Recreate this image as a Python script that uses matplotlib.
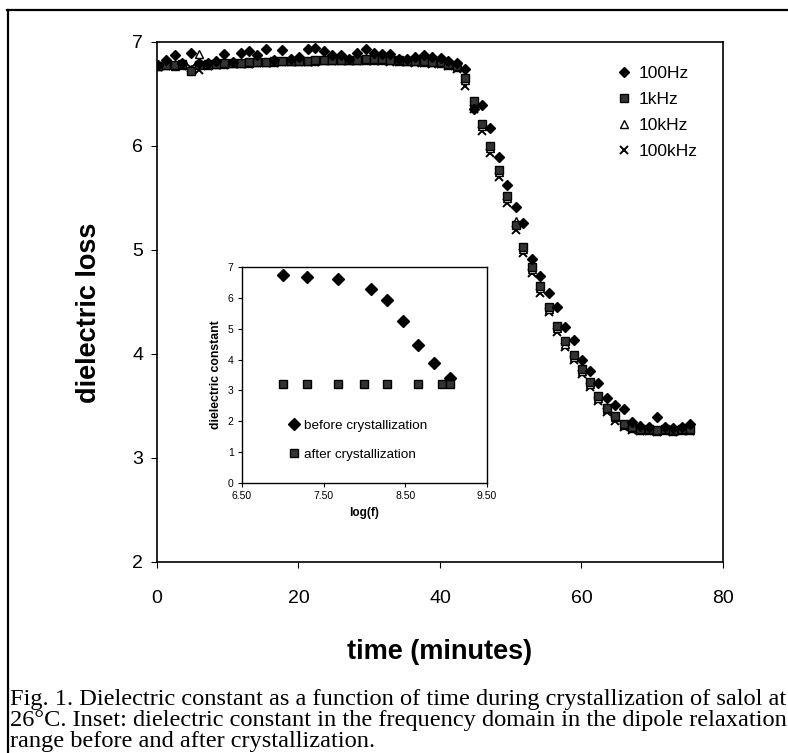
import numpy as np
import matplotlib
matplotlib.use("Agg")
import matplotlib.pyplot as plt
from matplotlib.lines import Line2D

plt.rcParams['font.family'] = ['Liberation Sans', 'DejaVu Sans']

# main plot: dielectric loss vs time, four measuring frequencies
time_min = [0.1, 1.3, 2.5, 3.6, 4.8, 6.0, 7.2, 8.3, 9.5, 10.7, 11.9, 13.0, 14.2,
            15.4, 16.6, 17.7, 18.9, 20.1, 21.3, 22.4, 23.6, 24.8, 26.0, 27.1,
            28.3, 29.5, 30.7, 31.8, 33.0, 34.2, 35.4, 36.5, 37.7, 38.9, 40.1,
            41.2, 42.4, 43.6, 44.8, 46.0, 47.1, 48.3, 49.5, 50.7, 51.8, 53.0,
            54.2, 55.4, 56.5, 57.7, 58.9, 60.1, 61.2, 62.4, 63.6, 64.8, 66.0,
            67.1, 68.3, 69.5, 70.7, 71.8, 73.0, 74.2, 75.4]

loss_100hz = [6.78, 6.83, 6.87, 6.80, 6.89, 6.80, 6.80, 6.82, 6.88, 6.81, 6.89,
              6.91, 6.87, 6.93, 6.83, 6.92, 6.84, 6.86, 6.93, 6.94, 6.91, 6.87,
              6.87, 6.84, 6.89, 6.93, 6.89, 6.88, 6.88, 6.84, 6.84, 6.86, 6.87,
              6.86, 6.85, 6.82, 6.80, 6.74, 6.36, 6.39, 6.17, 5.89, 5.62, 5.41,
              5.26, 4.91, 4.75, 4.59, 4.45, 4.26, 4.13, 3.94, 3.84, 3.72, 3.58,
              3.51, 3.47, 3.35, 3.31, 3.30, 3.39, 3.30, 3.29, 3.30, 3.33]

loss_1khz = [6.77, 6.78, 6.78, 6.79, 6.72, 6.78, 6.79, 6.79, 6.80, 6.80, 6.80,
             6.81, 6.81, 6.81, 6.82, 6.82, 6.82, 6.82, 6.82, 6.83, 6.83, 6.83,
             6.83, 6.83, 6.83, 6.84, 6.84, 6.84, 6.83, 6.83, 6.82, 6.82, 6.82,
             6.81, 6.81, 6.79, 6.77, 6.65, 6.43, 6.21, 6.00, 5.77, 5.52, 5.24,
             5.03, 4.84, 4.65, 4.45, 4.27, 4.12, 3.99, 3.86, 3.73, 3.60, 3.48,
             3.40, 3.33, 3.30, 3.28, 3.28, 3.27, 3.28, 3.27, 3.28, 3.28]

loss_10khz = [6.77, 6.78, 6.77, 6.78, 6.74, 6.88, 6.78, 6.79, 6.79, 6.80, 6.80,
              6.80, 6.81, 6.81, 6.81, 6.82, 6.82, 6.82, 6.82, 6.82, 6.83, 6.83,
              6.83, 6.83, 6.83, 6.83, 6.83, 6.83, 6.83, 6.82, 6.82, 6.82, 6.81,
              6.81, 6.80, 6.78, 6.76, 6.63, 6.41, 6.19, 5.98, 5.75, 5.50, 5.28,
              5.01, 4.82, 4.63, 4.43, 4.25, 4.10, 3.97, 3.84, 3.71, 3.58, 3.47,
              3.39, 3.32, 3.29, 3.27, 3.27, 3.26, 3.27, 3.26, 3.27, 3.27]

loss_100khz = [6.76, 6.77, 6.77, 6.77, 6.75, 6.73, 6.77, 6.78, 6.78, 6.79, 6.79,
               6.79, 6.80, 6.80, 6.80, 6.81, 6.81, 6.81, 6.81, 6.81, 6.82, 6.82,
               6.82, 6.82, 6.82, 6.82, 6.82, 6.82, 6.81, 6.81, 6.81, 6.80, 6.80,
               6.79, 6.79, 6.77, 6.74, 6.58, 6.36, 6.14, 5.93, 5.70, 5.45, 5.19,
               4.97, 4.78, 4.59, 4.40, 4.21, 4.07, 3.94, 3.81, 3.68, 3.55, 3.44,
               3.36, 3.30, 3.27, 3.26, 3.26, 3.25, 3.26, 3.25, 3.26, 3.26]

freq_labels = ['100Hz', '1kHz', '10kHz', '100kHz']

# inset: dielectric constant vs log(f)
logf_before = [7.00, 7.30, 7.68, 8.08, 8.27, 8.47, 8.66, 8.85, 9.05]
eps_before = [6.74, 6.68, 6.61, 6.28, 5.92, 5.26, 4.46, 3.88, 3.39]
logf_after = [7.00, 7.30, 7.68, 7.99, 8.27, 8.66, 8.95, 9.05]
eps_after = [3.22, 3.22, 3.22, 3.20, 3.20, 3.20, 3.20, 3.21]

caption = ["Fig. 1. Dielectric constant as a function of time during crystallization of salol at",
           "26\u00b0C. Inset: dielectric constant in the frequency domain in the dipole relaxation",
           "range before and after crystallization."]

fig = plt.figure(figsize=(7.88, 7.53), dpi=100)

# frame around the figure (left and top edges visible)
fig.add_artist(Line2D([0.010, 0.010], [0.0, 0.987], color='black', lw=1.6,
                      transform=fig.transFigure))
fig.add_artist(Line2D([0.009, 1.0], [0.987, 0.987], color='black', lw=1.6,
                      transform=fig.transFigure))

ax = fig.add_axes([0.1992, 0.2537, 0.7183, 0.6906])
ax.plot(time_min, loss_100hz, linestyle='none', marker='D', ms=5.4,
        mfc='black', mec='black', label=freq_labels[0], zorder=5)
ax.plot(time_min, loss_1khz, linestyle='none', marker='s', ms=5.6,
        mfc='#333333', mec='black', mew=1.0, label=freq_labels[1], zorder=4)
ax.plot(time_min, loss_10khz, linestyle='none', marker='^', ms=5.2,
        mfc='white', mec='black', mew=1.0, label=freq_labels[2], zorder=3)
ax.plot(time_min, loss_100khz, linestyle='none', marker='x', ms=5.2,
        color='black', mew=1.4, label=freq_labels[3], zorder=2)

ax.set_xlim(0, 80)
ax.set_ylim(2, 7)
ax.set_xticks([0, 20, 40, 60, 80])
ax.set_yticks([2, 3, 4, 5, 6, 7])
ax.tick_params(axis='x', direction='out', length=4, pad=16, labelsize=14)
ax.tick_params(axis='y', direction='out', length=4, pad=6, labelsize=14)
for sp in ax.spines.values():
    sp.set_linewidth(1.2)
ax.set_xlabel('time (minutes)', fontsize=19.5, fontweight='bold')
ax.xaxis.set_label_coords(0.5, -0.148)
ax.set_ylabel('dielectric loss', fontsize=19.5, fontweight='bold')
ax.yaxis.set_label_coords(-0.097, 0.48)

ax.legend(loc='upper left', bbox_to_anchor=(0.80, 0.968), frameon=False,
          fontsize=12.5, handlelength=0.8, handletextpad=0.45,
          labelspacing=0.64, borderaxespad=0)

ins = fig.add_axes([0.3071, 0.3586, 0.3109, 0.2869])
ins.plot(logf_before, eps_before, linestyle='none', marker='D', ms=6,
         mfc='black', mec='black', label='before crystallization')
ins.plot(logf_after, eps_after, linestyle='none', marker='s', ms=6,
         mfc='#333333', mec='black', mew=1.0, label='after crystallization')
ins.set_xlim(6.5, 9.5)
ins.set_ylim(0, 7)
ins.set_xticks([6.5, 7.5, 8.5, 9.5])
ins.set_xticklabels(['6.50', '7.50', '8.50', '9.50'])
ins.set_yticks(range(0, 8))
ins.tick_params(direction='out', length=3, labelsize=7.5, pad=3)
for sp in ins.spines.values():
    sp.set_linewidth(1.0)
ins.set_xlabel('log(f)', fontsize=8.5, fontweight='bold')
ins.set_ylabel('dielectric constant', fontsize=8.8, fontweight='bold')
ins.legend(loc='lower left', bbox_to_anchor=(0.17, 0.076), frameon=False,
           fontsize=9.7, handlelength=0.8, handletextpad=0.3,
           labelspacing=1.25, borderaxespad=0)

cap_y = [0.0637, 0.0359, 0.0080]
for line, yy in zip(caption, cap_y):
    fig.text(0.013, yy, line, fontsize=17.6, family=['Liberation Serif', 'DejaVu Serif'],
             ha='left', va='baseline')

fig.savefig('out.png', dpi=100)
